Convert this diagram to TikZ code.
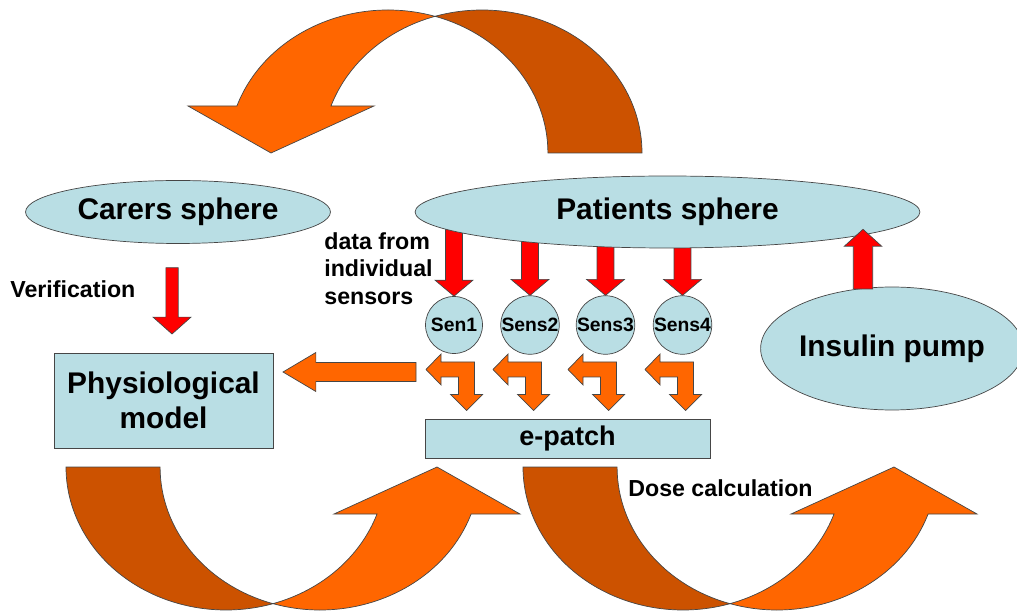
\documentclass[tikz,border=0pt]{standalone}
\usepackage{fontspec}
\setmainfont{Liberation Sans}
\usetikzlibrary{shapes.geometric,calc,backgrounds}

\definecolor{bluegrey}{RGB}{185,222,228}
\definecolor{brightorange}{RGB}{255,102,0}
\definecolor{darkorange}{RGB}{204,82,0}
\definecolor{outline}{RGB}{70,70,70}

\newcommand{\blockarrow}[6]{%
	\coordinate (ba-h) at ($(#3)!#6!(#2)$);
	\filldraw[#1] ($(#2)!#4!90:(#3)$) -- ($(ba-h)!#4!90:(#3)$) -- ($(ba-h)!#5!90:(#3)$) -- (#3)
		-- ($(ba-h)!#5!-90:(#3)$) -- ($(ba-h)!#4!-90:(#3)$) -- ($(#2)!#4!-90:(#3)$) -- cycle;
}

\tikzset{
	blob/.style={ellipse, draw=outline, fill=bluegrey, inner sep=0pt},
	box/.style={rectangle, draw=outline, fill=bluegrey, inner sep=0pt, align=center},
	sensor/.style={circle, draw=outline, fill=bluegrey, inner sep=0pt, minimum size=1.14cm, font=\fontsize{11}{13}\selectfont\bfseries},
	redarrow/.style={fill=red, draw=outline, line width=0.4pt},
	orangearrow/.style={fill=brightorange, draw=outline, line width=0.4pt},
	backarrow/.style={fill=darkorange, draw=outline, line width=0.4pt},
	bigtext/.style={font=\fontsize{17}{19.8}\selectfont\bfseries},
	smalltext/.style={font=\fontsize{13.2}{15.6}\selectfont\bfseries, inner sep=0pt},
	pics/curvearrow/.style={code={
		\filldraw[backarrow] (-160,0) arc[start angle=180, end angle=287.1, x radius=160, y radius=143]
			arc[start angle=252.9, end angle=180, x radius=160, y radius=143] -- cycle;
		\filldraw[orangearrow] (211,0) -- (294,-47) -- (245.1,-47)
			arc[start angle=340.8, end angle=252.9, x radius=160, y radius=143]
			arc[start angle=287.1, end angle=340.8, x radius=160, y radius=143] -- (108,-47) -- cycle;
	}},
	pics/bentarrow/.style={code={
		\filldraw[orangearrow] (0,0) -- (15,15.5) -- (15,7.5) -- (48.5,7.5) -- (48.5,-25) -- (56.5,-25) -- (40.5,-41)
			-- (24.5,-25) -- (32.5,-25) -- (32.5,-7.5) -- (15,-7.5) -- (15,-15.5) -- cycle;
	}}
}

\begin{document}
\begin{tikzpicture}[x=0.02cm, y=0.02cm]
	\useasboundingbox (0,0) rectangle (1017,612);

	\pic at (226,145) {curvearrow};
	\pic at (683,145) {curvearrow};
	\pic[rotate=180] at (482,459) {curvearrow};

	\node[blob, bigtext, minimum width=6.1cm, minimum height=1.26cm] (carers) at (178,400) {Carers sphere};
	\node[blob, bigtext, minimum width=10.1cm, minimum height=1.44cm] (patients) at (667.5,400) {Patients sphere};
	\node[blob, bigtext, minimum width=4.96cm, minimum height=2.46cm] (pump) at (892,263.5) {Insulin pump};
	\node[box, bigtext, minimum width=4.38cm, minimum height=1.9cm] (physio) at (163.5,211.5) {Physiological\\model};
	\node[box, font=\fontsize{15.4}{18}\selectfont\bfseries, minimum width=5.7cm, minimum height=0.78cm] (epatch) at (567.5,173.5) {e-patch};

	\node[sensor] (s1) at (454,287) {Sen1};
	\node[sensor] (s2) at (530,287) {Sens2};
	\node[sensor] (s3) at (605.5,287) {Sens3};
	\node[sensor] (s4) at (682.5,287) {Sens4};

	\node[smalltext, anchor=west] (verif) at (10,323) {Verification};
	\node[smalltext, anchor=west, align=left] (datasrc) at (324,343.5) {data from\\individual\\sensors};
	\node[smalltext, anchor=west] (dose) at (628,124) {Dose calculation};

	\begin{scope}[on background layer]
		\foreach \s in {s1,s2,s3,s4} {
			\coordinate (top-\s) at (\s |- patients.center);
			\blockarrow{redarrow}{top-\s}{\s.north}{4.8pt}{10.8pt}{9.1pt}
		}
	\end{scope}

	\coordinate (cv1) at (172,344.3);
	\coordinate (cv2) at (172,278);
	\blockarrow{redarrow}{cv1}{cv2}{3.5pt}{10.8pt}{9.6pt}

	\coordinate (iv1) at (863,323);
	\coordinate (iv2) at (863,382.7);
	\blockarrow{redarrow}{iv1}{iv2}{5.5pt}{10.6pt}{9.6pt}

	\coordinate (ol1) at (416,240);
	\coordinate (ol2) at (283,240);
	\blockarrow{orangearrow}{ol1}{ol2}{5.4pt}{11.1pt}{18.7pt}

	\foreach \x in {426,493,568,645}
		\pic at (\x,242.5) {bentarrow};
\end{tikzpicture}
\end{document}
